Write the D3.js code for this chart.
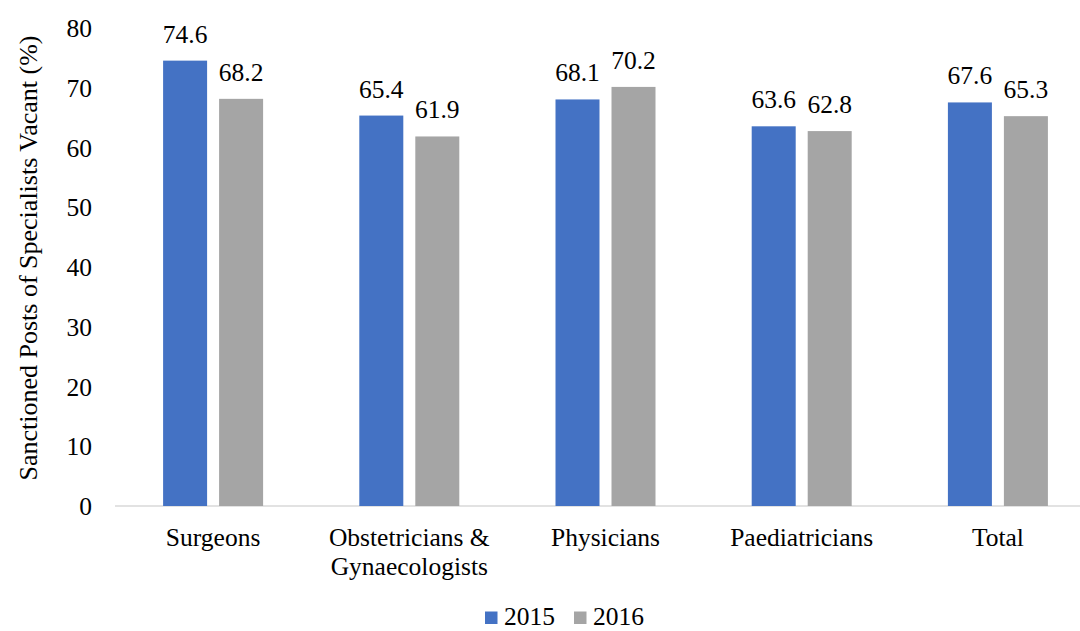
<!DOCTYPE html>
<html><head><meta charset="utf-8">
<script src="https://cdn.jsdelivr.net/npm/d3@7"></script>
<style>body{margin:0;background:#fff}svg{display:block}</style>
</head><body>
<script>
const categories = [["Surgeons"], ["Obstetricians &", "Gynaecologists"], ["Physicians"], ["Paediatricians"], ["Total"]];
const seriesNames = ["2015", "2016"];
const values2015 = [74.6, 65.4, 68.1, 63.6, 67.6];
const values2016 = [68.2, 61.9, 70.2, 62.8, 65.3];
const yTicks = [0, 10, 20, 30, 40, 50, 60, 70, 80];
const colors = ["#4472C4", "#A5A5A5"];

const W = 1080, H = 631, fs = 25.5;
const svg = d3.select("body").append("svg").attr("width", W).attr("height", H)
  .attr("font-family", "'Liberation Serif', 'Times New Roman', Tinos, 'DejaVu Serif', serif");
const x = d3.scaleBand().domain(d3.range(categories.length)).range([115, 1096]).paddingInner(0).paddingOuter(0);
const y = d3.scaleLinear().domain([0, 80]).range([506, 28.4]);
const bw = 44, gap = 12;
const series = [values2015, values2016];

svg.append("line").attr("x1", 115).attr("x2", 1096).attr("y1", y(0)).attr("y2", y(0)).attr("stroke", "#d9d9d9").attr("stroke-width", 1.5);

const yAxis = svg.append("g");
yAxis.selectAll("text").data(yTicks).join("text")
  .attr("x", 92).attr("y", d => y(d)).attr("dy", "0.35em").attr("text-anchor", "end")
  .attr("font-size", fs).text(d => d);

svg.append("text").attr("transform", `translate(37,${258}) rotate(-90)`)
  .attr("text-anchor", "middle").attr("font-size", 26).text("Sanctioned Posts of Specialists Vacant (%)");

series.forEach((vals, si) => {
  const g = svg.append("g");
  const xo = i => x(i) + x.bandwidth() / 2 - bw - gap / 2 + si * (bw + gap);
  g.selectAll("rect").data(vals).join("rect")
    .attr("x", (d, i) => xo(i)).attr("width", bw)
    .attr("y", d => y(d)).attr("height", d => y(0) - y(d)).attr("fill", colors[si]);
  g.selectAll("text").data(vals).join("text")
    .attr("x", (d, i) => xo(i) + bw / 2).attr("y", d => y(d) - 18)
    .attr("text-anchor", "middle").attr("font-size", fs).text(d => d.toFixed(1));
});

categories.forEach((lines, i) => {
  const t = svg.append("text").attr("text-anchor", "middle").attr("font-size", fs)
    .attr("x", x(i) + x.bandwidth() / 2).attr("y", 546);
  lines.forEach((l, k) => t.append("tspan").attr("x", x(i) + x.bandwidth() / 2).attr("dy", k ? 29 : 0).text(l));
});

const legX = [485, 574];
seriesNames.forEach((n, i) => {
  svg.append("rect").attr("x", legX[i]).attr("y", 611.5).attr("width", 12.5).attr("height", 12.5).attr("fill", colors[i]);
  svg.append("text").attr("x", legX[i] + 19).attr("y", 625).attr("font-size", fs).text(n);
});
</script>
</body></html>
